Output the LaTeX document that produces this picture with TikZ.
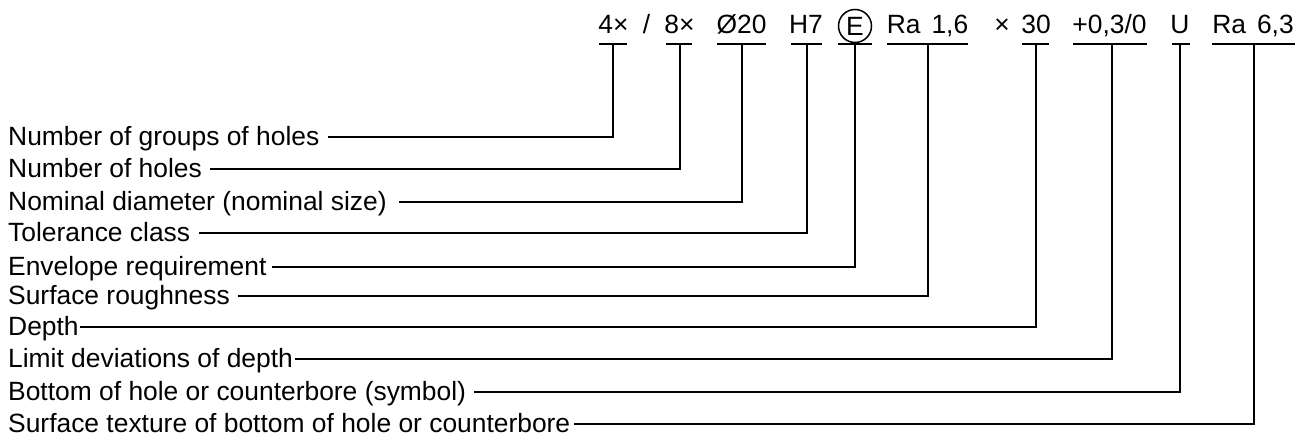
\documentclass[tikz,border=0pt]{standalone}
\usepackage{fontspec}
\setmainfont{Liberation Sans}
\begin{document}
\begin{tikzpicture}[x=1pt,y=-1pt,
  font=\fontsize{26.4}{30}\selectfont,
  lbl/.style={anchor=base west, inner sep=0pt},
  top/.style={anchor=base, inner sep=0pt},
  ln/.style={line width=1.8pt}]
\useasboundingbox (0,0) rectangle (1303,436);

% top designation
\node[top] (t1)  at (613.5,34) {4×};
\node[top] (ts)  at (646.5,34) {/};
\node[top] (t2)  at (679.5,34) {8×};
\node[top] (t3)  at (741.5,34) {Ø20};
\node[top] (t4)  at (806,34) {H7};
\node[circle, draw, line width=1.5pt, minimum size=33pt, inner sep=0pt] (t5) at (855,26) {E};
\node[top] (t6)  at (927.5,34) {Ra\hspace{11pt}1,6};
\node[top] (tx)  at (1002,34) {×};
\node[top] (t7)  at (1036,34) {30};
\node[top] (t8)  at (1109.5,34) {+0,3/0};
\node[top] (t9)  at (1180,34) {U};
\node[top] (t10) at (1253,34) {Ra\hspace{11pt}6,3};

% bars and junctions
\foreach \i/\a/\b/\v in {1/599/627/613, 2/666/692/680, 3/717/766/742,
  4/791/822/807, 5/838/872/855, 6/887/968/928, 7/1022/1049/1036,
  8/1073/1147/1112, 9/1172/1190/1180, 10/1212/1295/1254}{
  \coordinate (ba\i) at (\a,44);
  \coordinate (bb\i) at (\b,44);
  \coordinate (j\i) at (\v,44);
  \draw[ln] (ba\i) -- (bb\i);
}

% left labels
\node[lbl] (l1)  at (8,145.5) {Number of groups of holes};
\node[lbl] (l2)  at (8,177.5) {Number of holes};
\node[lbl] (l3)  at (8,210.5) {Nominal diameter (nominal size)};
\node[lbl] (l4)  at (8,241.5) {Tolerance class};
\node[lbl] (l5)  at (8,275.5) {Envelope requirement};
\node[lbl] (l6)  at (8,304.5) {Surface roughness};
\node[lbl] (l7)  at (8,335.5) {Depth};
\node[lbl] (l8)  at (8,367.5) {Limit deviations of depth};
\node[lbl] (l9)  at (8,400.5) {Bottom of hole or counterbore (symbol)};
\node[lbl] (l10) at (8,432.5) {Surface texture of bottom of hole or counterbore};

% connectors
\foreach \i/\g in {1/8, 2/8, 3/12, 4/9, 5/5, 6/8, 7/1, 8/2, 9/8, 10/4}{
  \draw[ln] (j\i) |- ([xshift=\g pt, yshift=8.5pt]l\i.base east);
}
\end{tikzpicture}
\end{document}
